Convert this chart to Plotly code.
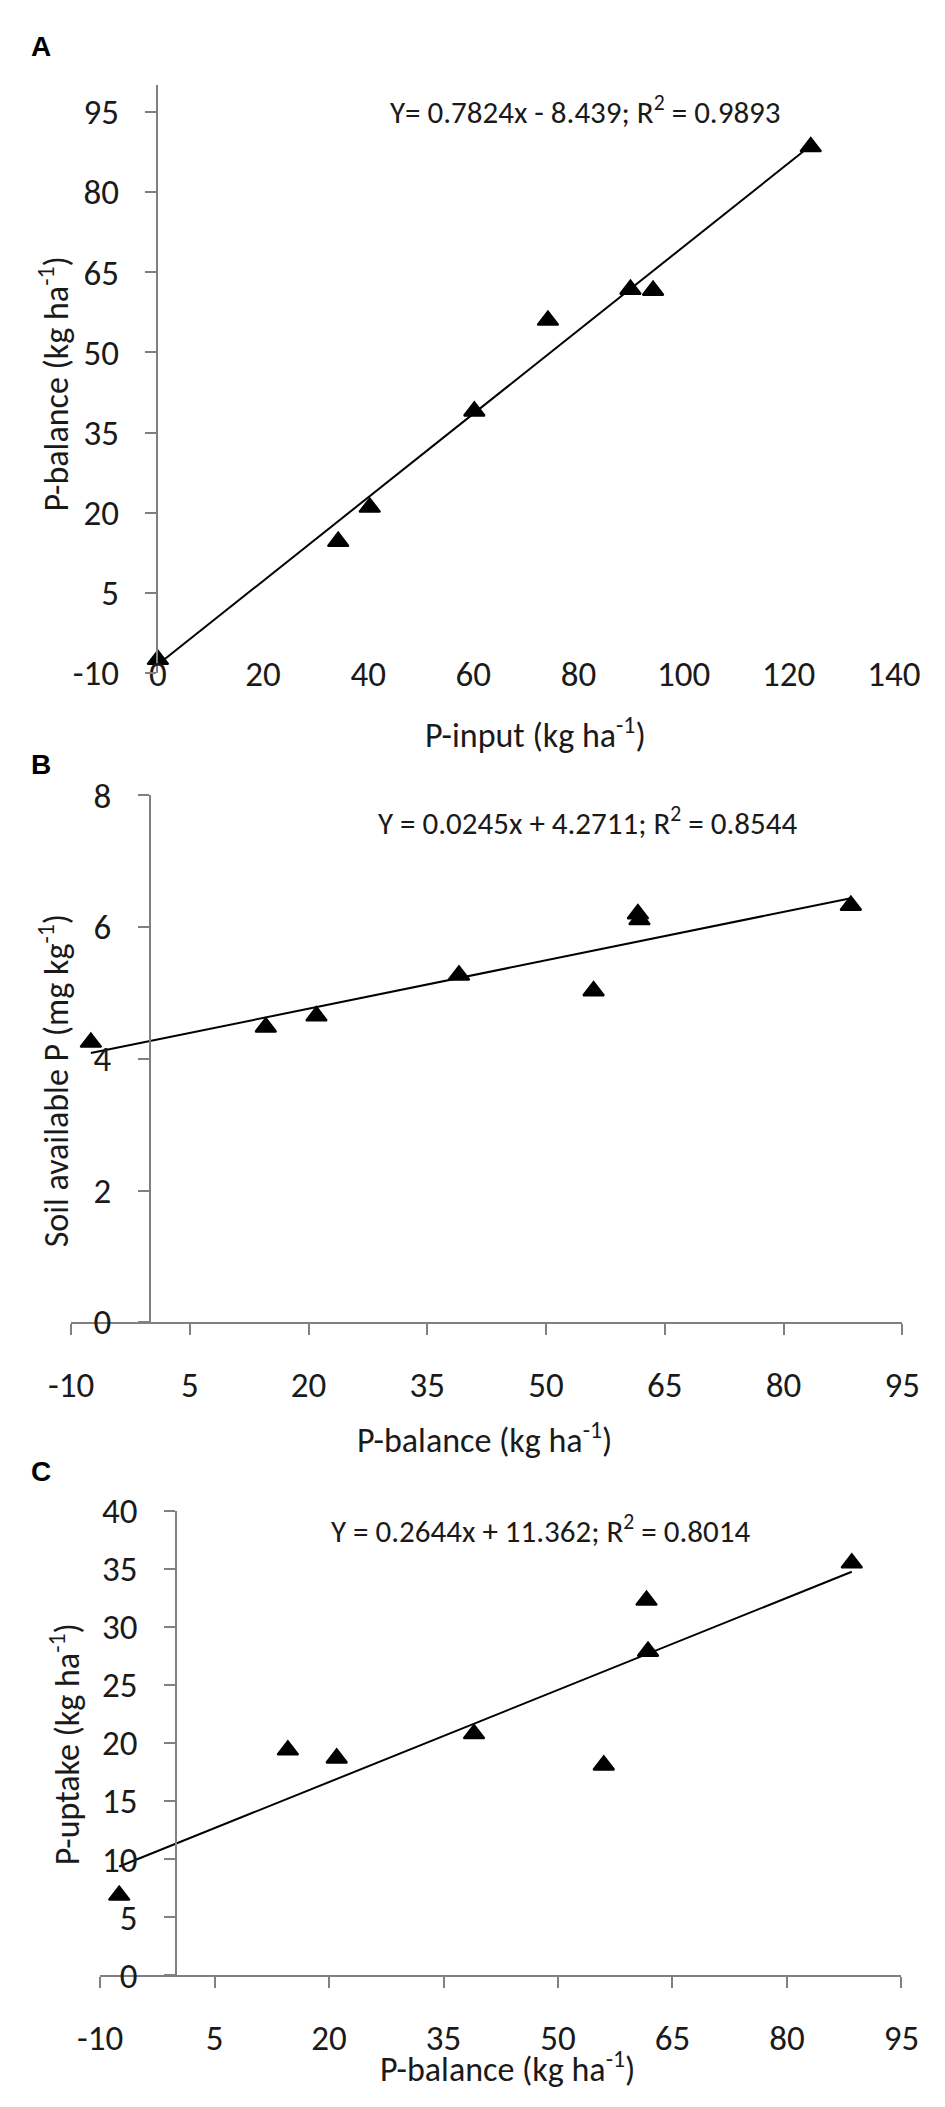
import plotly.graph_objects as go

# ---------------- data ----------------
p_input = [0, 34.3, 40.3, 60.2, 74.2, 89.9, 94.2, 124.2]
p_balance = [-7.5, 14.6, 21.0, 39.0, 56.0, 61.8, 61.6, 88.5]
soil_p = [4.25, 4.48, 4.65, 5.27, 5.03, 6.11, 6.20, 6.33]
p_uptake = [6.9, 19.4, 18.7, 20.8, 18.1, 27.9, 32.3, 35.5]

# regression coefficients as printed on the chart
fitA = (0.7824, -8.439)
fitB = (0.0245, 4.2711)
fitC = (0.2644, 11.362)

eqA = "Y= 0.7824x - 8.439; R<sup>2</sup> = 0.9893"
eqB = "Y = 0.0245x + 4.2711; R<sup>2</sup> = 0.8544"
eqC = "Y = 0.2644x + 11.362; R<sup>2</sup> = 0.8014"

titleA_x = "P-input (kg ha<sup>-1</sup>)"
titleA_y = "P-balance (kg ha<sup>-1</sup>)"
titleB_x = "P-balance (kg ha<sup>-1</sup>)"
titleB_y = "Soil available P (mg kg<sup>-1</sup>)"
titleC_x = "P-balance (kg ha<sup>-1</sup>)"
titleC_y = "P-uptake (kg ha<sup>-1</sup>)"

# tick values / labels
ticksA_x = [0, 20, 40, 60, 80, 100, 120, 140]
ticksA_y = [-10, 5, 20, 35, 50, 65, 80, 95]
ticksBC_x = [-10, 5, 20, 35, 50, 65, 80, 95]
ticksB_y = [0, 2, 4, 6, 8]
ticksC_y = [0, 5, 10, 15, 20, 25, 30, 35, 40]

# ---------------- layout helpers ----------------
W, H = 945, 2107
FONT = "Carlito, 'Liberation Sans Narrow', 'Open Sans', sans-serif"
AXC = "#808080"
TXT = "#1a1a1a"


def fx(px):
    return px / W


def fy(py):
    return 1 - py / H


def frac(v, rng, dom):
    return dom[0] + (v - rng[0]) / (rng[1] - rng[0]) * (dom[1] - dom[0])


def labels(vals):
    return [str(v) for v in vals]  # plain hyphen for negatives


# panel geometry (pixels)
rngA_x, rngA_y = [0, 140], [-10, 100]
domA_x, domA_y = [fx(134), fx(911)], [fy(657), fy(57.5)]
rngB_x, rngB_y = [-10, 95], [0, 8]
domB_x, domB_y = [fx(42.3), fx(920)], [fy(1319.5), fy(782)]
rngC_x, rngC_y = [-10, 95], [0, 40]
domC_x, domC_y = [fx(73), fx(919)], [fy(1986), fy(1512)]

fig = go.Figure()

mk = dict(symbol="triangle-up", size=18, color="black", line=dict(color="black", width=2))


def fitline(xs, coef):
    lo, hi = min(xs), max(xs)
    return [lo, hi], [coef[0] * lo + coef[1], coef[0] * hi + coef[1]]


# Panel A
lx, ly = fitline(p_input, fitA)
fig.add_trace(go.Scatter(x=lx, y=ly, mode="lines", line=dict(color="black", width=2),
                         xaxis="x", yaxis="y", showlegend=False, cliponaxis=False))
fig.add_trace(go.Scatter(x=p_input, y=p_balance, mode="markers", marker=mk,
                         xaxis="x", yaxis="y", showlegend=False, cliponaxis=False))
# Panel B
lx, ly = fitline(p_balance, fitB)
fig.add_trace(go.Scatter(x=lx, y=ly, mode="lines", line=dict(color="black", width=2),
                         xaxis="x2", yaxis="y2", showlegend=False, cliponaxis=False))
fig.add_trace(go.Scatter(x=p_balance, y=soil_p, mode="markers", marker=mk,
                         xaxis="x2", yaxis="y2", showlegend=False, cliponaxis=False))
# Panel C
lx, ly = fitline(p_balance, fitC)
fig.add_trace(go.Scatter(x=lx, y=ly, mode="lines", line=dict(color="black", width=2),
                         xaxis="x3", yaxis="y3", showlegend=False, cliponaxis=False))
fig.add_trace(go.Scatter(x=p_balance, y=p_uptake, mode="markers", marker=mk,
                         xaxis="x3", yaxis="y3", showlegend=False, cliponaxis=False))

tickfont = dict(family=FONT, size=35, color=TXT)
line_ax = dict(showline=True, linecolor=AXC, linewidth=2, ticks="outside", ticklen=11,
               tickcolor=AXC, tickwidth=2, showgrid=False, zeroline=False, fixedrange=True)

layout = dict(
    width=W, height=H, margin=dict(l=0, r=0, t=0, b=0),
    paper_bgcolor="white", plot_bgcolor="rgba(0,0,0,0)",
    font=dict(family=FONT, color=TXT),
    # ---- A: labels axis (bottom row), line axis drawn at y=0
    xaxis=dict(domain=domA_x, range=rngA_x, anchor="free", position=fy(634),
               tickmode="array", tickvals=ticksA_x, ticktext=labels(ticksA_x),
               showline=False, ticks="", showgrid=False, zeroline=False,
               tickfont=tickfont),
    xaxis4=dict(domain=domA_x, range=rngA_x, matches="x", overlaying="x", anchor="free",
                position=frac(0, rngA_y, domA_y), tickmode="array", tickvals=ticksA_x,
                showticklabels=False, **line_ax),
    yaxis=dict(domain=domA_y, range=rngA_y, anchor="x",
               tickmode="array", tickvals=ticksA_y, ticktext=labels(ticksA_y),
               tickfont=tickfont, ticklabelstandoff=19, **line_ax),
    # ---- B
    xaxis2=dict(domain=domB_x, range=rngB_x, anchor="y2",
                tickmode="array", tickvals=ticksBC_x, ticktext=labels(ticksBC_x),
                tickfont=tickfont, ticklabelstandoff=20, **line_ax),
    yaxis2=dict(domain=domB_y, range=rngB_y, anchor="free",
                position=frac(0, rngB_x, domB_x),
                tickmode="array", tickvals=ticksB_y, ticktext=labels(ticksB_y),
                tickfont=tickfont, ticklabelstandoff=20, **line_ax),
    # ---- C
    xaxis3=dict(domain=domC_x, range=rngC_x, anchor="y3",
                tickmode="array", tickvals=ticksBC_x, ticktext=labels(ticksBC_x),
                tickfont=tickfont, ticklabelstandoff=20, **line_ax),
    yaxis3=dict(domain=domC_y, range=rngC_y, anchor="free",
                position=frac(0, rngC_x, domC_x),
                tickmode="array", tickvals=ticksC_y, ticktext=labels(ticksC_y),
                tickfont=tickfont, ticklabelstandoff=20, **line_ax),
)
fig.update_layout(**layout)

ann = []


def text(x, y, s, size=33, angle=0, bold=False, fam=FONT):
    ann.append(dict(x=fx(x), y=fy(y), xref="paper", yref="paper", text=s, showarrow=False,
                    textangle=angle, xanchor="center", yanchor="middle",
                    font=dict(family=fam, size=size, color="black" if bold else TXT)))


text(585, 83, eqA, size=31)
text(588, 808, eqB, size=31)
text(538, 1531, eqC, size=31)

text(533, 718, titleA_x, size=34)
text(24, 362, titleA_y, size=34, angle=-90)
text(479, 1438, titleB_x, size=34)
text(24, 1073, titleB_y, size=34, angle=-90)
text(503, 2079, titleC_x, size=34)
text(36, 1750, titleC_y, size=34, angle=-90)

text(11, 18, "<b>A</b>", size=28, bold=True, fam="Liberation Sans, Arial, sans-serif")
text(11, 750, "<b>B</b>", size=28, bold=True, fam="Liberation Sans, Arial, sans-serif")
text(11, 1472, "<b>C</b>", size=28, bold=True, fam="Liberation Sans, Arial, sans-serif")

fig.update_layout(annotations=ann)
fig.write_html("out.html")
